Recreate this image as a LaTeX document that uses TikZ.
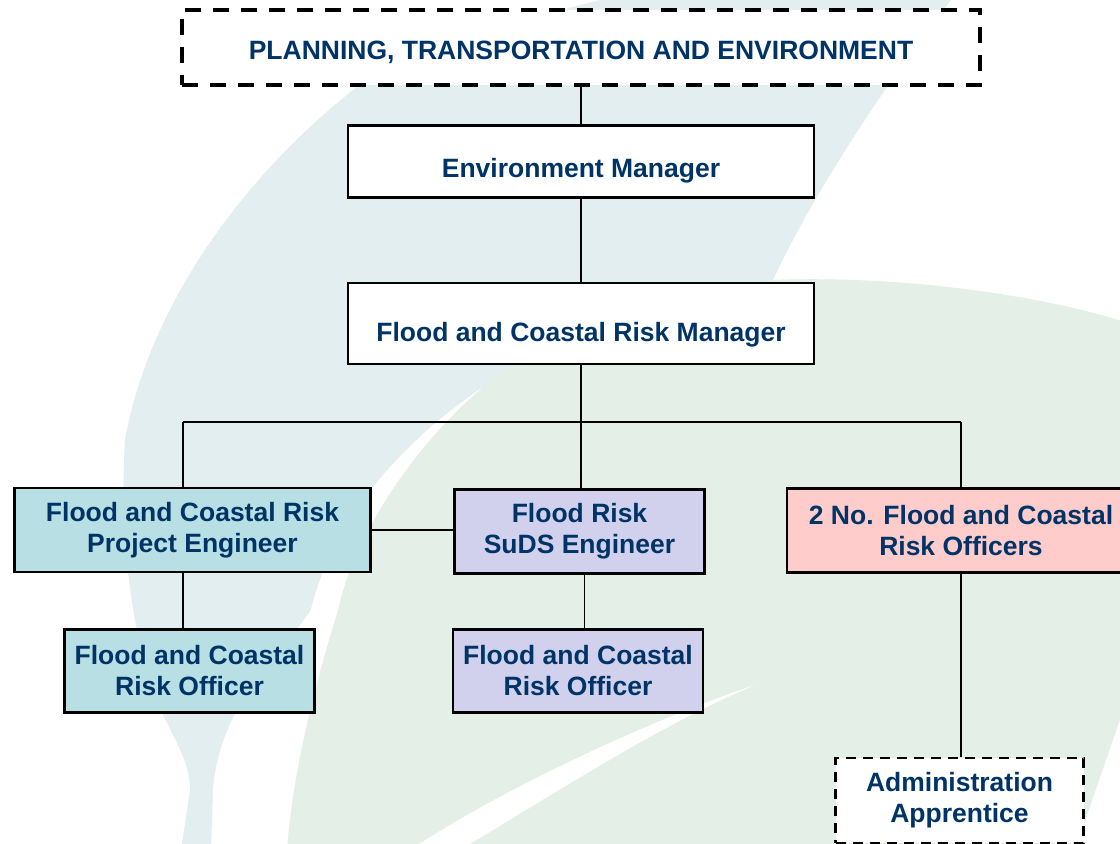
\documentclass[tikz,border=0pt]{standalone}
\usepackage{fontspec}
\setmainfont{Liberation Sans}
\definecolor{navy}{RGB}{0,51,102}
\definecolor{leafblue}{RGB}{227,238,240}
\definecolor{leafgreen}{RGB}{228,239,231}
\definecolor{boxteal}{RGB}{184,223,227}
\definecolor{boxlilac}{RGB}{209,209,238}
\definecolor{boxpink}{RGB}{255,204,204}
\begin{document}
\begin{tikzpicture}[x=1pt,y=-1pt,
    post/.style={draw,line width=2.6pt,inner sep=0pt,align=center,text=navy,
      font=\fontsize{26.5pt}{31pt}\selectfont\bfseries},
    dept/.style={post,fill=white,line width=4pt,dash pattern=on 16pt off 12pt,
      minimum width=798pt,minimum height=75pt,text height=24pt,text depth=0pt},
    manager/.style={post,fill=white,minimum width=466pt},
    engineer/.style={post,minimum height=84pt},
    officer/.style={post,minimum width=250pt,minimum height=83pt},
    vacancy/.style={post,fill=white,line width=2.4pt,dash pattern=on 10pt off 7pt,
      minimum width=248pt,minimum height=85pt},
    link/.style={line width=1.6pt}]
  \useasboundingbox (0,0) rectangle (1120,844);
  \fill[white] (0,0) rectangle (1120,844);
  \fill[leafblue] (620,-5) .. controls (480,30) and (400,55) .. (357,87)
    .. controls (250,170) and (150,300) .. (125,440)
    .. controls (118,560) and (138,660) .. (163,715)
    .. controls (178,745) and (190,765) .. (190,790) -- (181,850) -- (211,850)
    -- (213,790) .. controls (215,760) and (225,730) .. (240,705)
    .. controls (265,665) and (290,640) .. (311,610)
    .. controls (330,530) and (390,450) .. (482,388)
    -- (600,360) -- (773,280) .. controls (810,200) and (880,90) .. (955,-5) -- cycle;
  \fill[leafgreen] (773,280) .. controls (900,275) and (1040,295) .. (1125,322)
    -- (1125,705) -- (1075,850) -- (275,850)
    .. controls (286,780) and (302,700) .. (324,610)
    .. controls (342,530) and (405,445) .. (482,388)
    .. controls (560,320) and (680,285) .. (773,280) -- cycle;
  \fill[white] (482,388) .. controls (420,440) and (355,530) .. (338,610)
    .. controls (310,700) and (292,780) .. (287,850) -- (264,850)
    .. controls (268,780) and (280,700) .. (311,610)
    .. controls (330,530) and (390,450) .. (482,388) -- cycle;
  \fill[white] (755,685) .. controls (650,720) and (500,790) .. (410,850)
    -- (460,850) .. controls (560,790) and (660,725) .. (755,685) -- cycle;
  \draw
    (581,47.3) node[dept] (pte){PLANNING, TRANSPORTATION AND ENVIRONMENT}
    (581,161.5) node[manager,minimum height=72pt,text height=31pt,text depth=0pt] (envman){Environment Manager}
    (581,323.5) node[manager,minimum height=81pt,text height=36pt,text depth=0pt] (fcrman){Flood and Coastal Risk Manager}
    (192.5,530) node[engineer,fill=boxteal,minimum width=356pt] (projeng){Flood and Coastal Risk\\Project Engineer}
    (579.5,531.5) node[engineer,fill=boxlilac,minimum width=250pt] (sudseng){Flood Risk\\SuDS Engineer}
    (961,530.5) node[engineer,fill=boxpink,minimum width=348pt] (officers){2 No. Flood and Coastal\\Risk Officers}
    (189.5,671) node[officer,fill=boxteal] (projoff){Flood and Coastal\\Risk Officer}
    (578,671) node[officer,fill=boxlilac] (sudsoff){Flood and Coastal\\Risk Officer}
    (959.5,800.5) node[vacancy] (apprentice){Administration\\Apprentice};
  \coordinate (busl) at (183,422);
  \coordinate (busr) at (961,422);
  \begin{scope}[link]
    \draw (pte) to (envman);
    \draw (envman) to (fcrman);
    \draw (fcrman.south) to (fcrman.south |- sudseng.north);
    \draw[line width=1.2pt] (busl) to (busr);
    \draw (busl) to (busl |- projeng.north);
    \draw (busr) to (officers);
    \draw (projeng.east) to (projeng.east -| sudseng.west);
    \draw (busl |- projeng.south) to (busl |- projoff.north);
    \draw ([xshift=5pt]sudseng.south) to ([xshift=5pt]sudseng.south |- sudsoff.north);
    \draw (officers.south) to (officers.south |- apprentice.north);
  \end{scope}
\end{tikzpicture}
\end{document}
